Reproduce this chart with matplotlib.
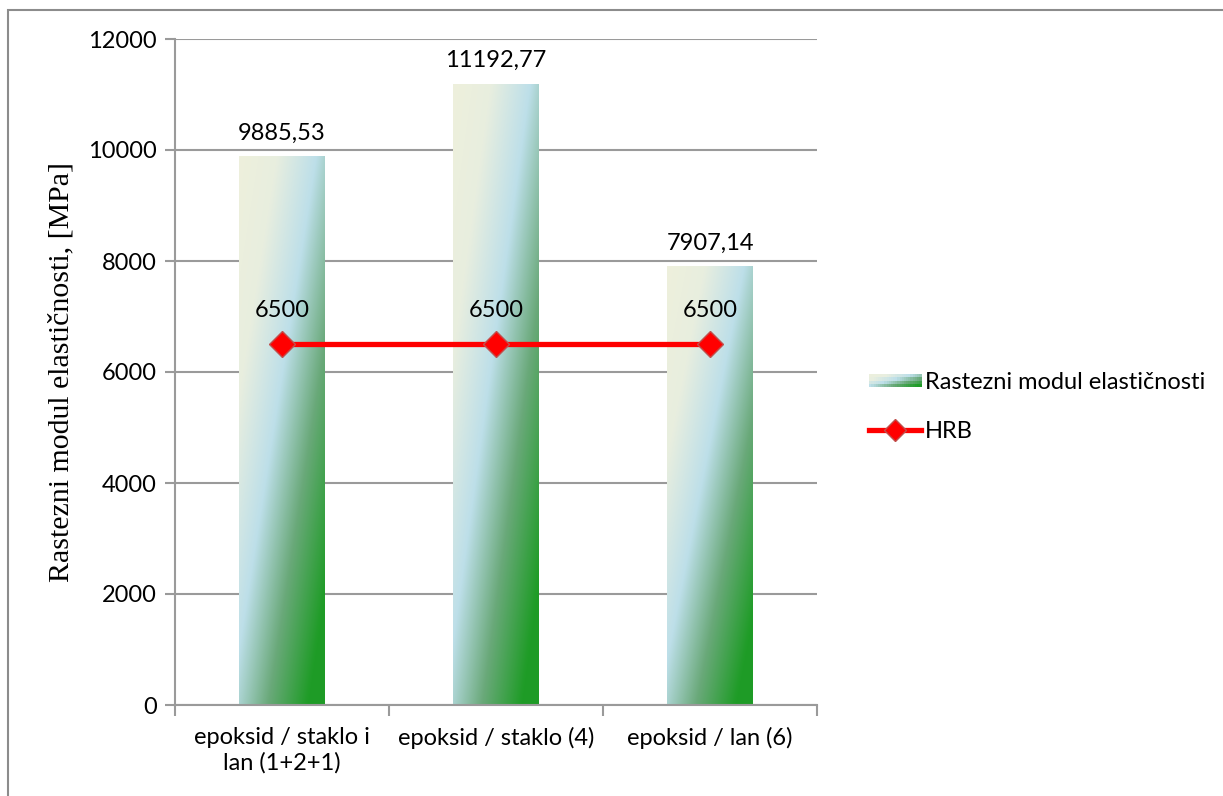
import numpy as np
import matplotlib
matplotlib.use("Agg")
import matplotlib.pyplot as plt
from matplotlib.colors import LinearSegmentedColormap
from matplotlib.patches import Rectangle, Patch
from matplotlib.lines import Line2D
from matplotlib.legend_handler import HandlerBase

categories = ["epoksid / staklo i\nlan (1+2+1)", "epoksid / staklo (4)", "epoksid / lan (6)"]
modulus = [9885.53, 11192.77, 7907.14]
hrb = [6500, 6500, 6500]
y_ticks = [0, 2000, 4000, 6000, 8000, 10000, 12000]

plt.rcParams["font.family"] = ["Lato", "DejaVu Sans"]

grad_cmap = LinearSegmentedColormap.from_list(
    "bar_grad",
    [(0.0, "#eef0dc"), (0.22, "#e8eedf"), (0.45, "#bddfe9"),
     (0.67, "#6aa97a"), (0.9, "#1f9c27"), (1.0, "#1e9b26")],
)
grid_color = "#9a9a9a"
fs = 17


def gradient_array(n=200):
    # Excel style 45 degree gradient in the box's own normalised coordinates
    xn = np.linspace(0, 1, n)[None, :]
    yn = np.linspace(1, 0, n)[:, None]  # row 0 is top
    return (xn + (1 - yn)) / 2


class GradientHandler(HandlerBase):
    def create_artists(self, legend, orig_handle, xdescent, ydescent,
                       width, height, fontsize, trans):
        artists = []
        nx, ny = 24, 4
        h = height * 0.75
        y0 = -ydescent + (height - h) / 2
        for i in range(nx):
            for j in range(ny):
                xn = (i + 0.5) / nx
                yn = (j + 0.5) / ny
                t = (xn + (1 - yn)) / 2
                r = Rectangle((-xdescent + width * i / nx, y0 + h * j / ny),
                              width / nx + 0.3, h / ny + 0.3,
                              facecolor=grad_cmap(t), edgecolor="none", transform=trans)
                artists.append(r)
        return artists


fig = plt.figure(figsize=(12.23, 7.96), dpi=100)
fig.patches.append(Rectangle((8 / 1223, -0.1), 1.2, 1 - 10 / 796 + 0.1,
                             transform=fig.transFigure, fill=False,
                             edgecolor="#8c8c8c", linewidth=1.5))
ax = fig.add_axes([175 / 1223, 1 - 705 / 796, (817 - 175) / 1223, (705 - 39) / 796])

x = np.arange(len(categories))
bars = ax.bar(x, modulus, width=0.4, color="none", edgecolor="none", zorder=2)
grad = gradient_array()
for rect in bars:
    x0, y0 = rect.get_x(), rect.get_y()
    w, h = rect.get_width(), rect.get_height()
    im = ax.imshow(grad, cmap=grad_cmap, vmin=0, vmax=1, aspect="auto",
                   extent=(x0, x0 + w, y0, y0 + h), zorder=2, interpolation="bilinear")
    im.set_clip_path(rect)

for xi, v in zip(x, modulus):
    ax.annotate(f"{v:.2f}".replace(".", ","), (xi, v), xytext=(0, 9),
                textcoords="offset points", ha="center", va="bottom", fontsize=fs)

ax.plot(x, hrb, color="#ff0000", linewidth=3.8, marker="D", markersize=13,
        markerfacecolor="#ff0000", markeredgecolor="#c0504d", markeredgewidth=1, zorder=4)
for xi, v in zip(x, hrb):
    ax.annotate(f"{v}", (xi, v), xytext=(0, 17), textcoords="offset points",
                ha="center", va="bottom", fontsize=fs)

ax.set_xlim(-0.5, 2.5)
ax.set_ylim(0, 12000)
ax.set_yticks(y_ticks)
ax.yaxis.grid(True, color=grid_color, linewidth=1.5, zorder=0)
ax.set_axisbelow(True)
ax.set_xticks(x)
ax.set_xticklabels(categories, fontsize=fs)
ax.set_xticks([-0.5, 0.5, 1.5, 2.5], minor=True)
ax.tick_params(axis="x", which="major", length=0, pad=16)
ax.tick_params(axis="x", which="minor", length=8, width=1.5, color=grid_color)
ax.tick_params(axis="y", length=7, width=1.5, color=grid_color, labelsize=fs, pad=6)
for side in ("top", "right"):
    ax.spines[side].set_visible(False)
for side in ("left", "bottom"):
    ax.spines[side].set_color(grid_color)
    ax.spines[side].set_linewidth(1.5)

ax.set_ylabel("Rastezni modul elastičnosti, [MPa]", family="Liberation Serif",
              fontsize=21.5, labelpad=10)

handles = [Patch(label="Rastezni modul elastičnosti"),
           Line2D([], [], color="#ff0000", linewidth=3.8, marker="D", markersize=11,
                  markerfacecolor="#ff0000", markeredgecolor="#c0504d", label="HRB")]
fig.legend(handles=handles, loc="center left", bbox_to_anchor=(848 / 1223, 1 - 407 / 796),
           frameon=False, fontsize=fs, handler_map={Patch: GradientHandler()},
           handlelength=2.2, handletextpad=0.15, labelspacing=1.2)

fig.savefig("out.png", dpi=100)
